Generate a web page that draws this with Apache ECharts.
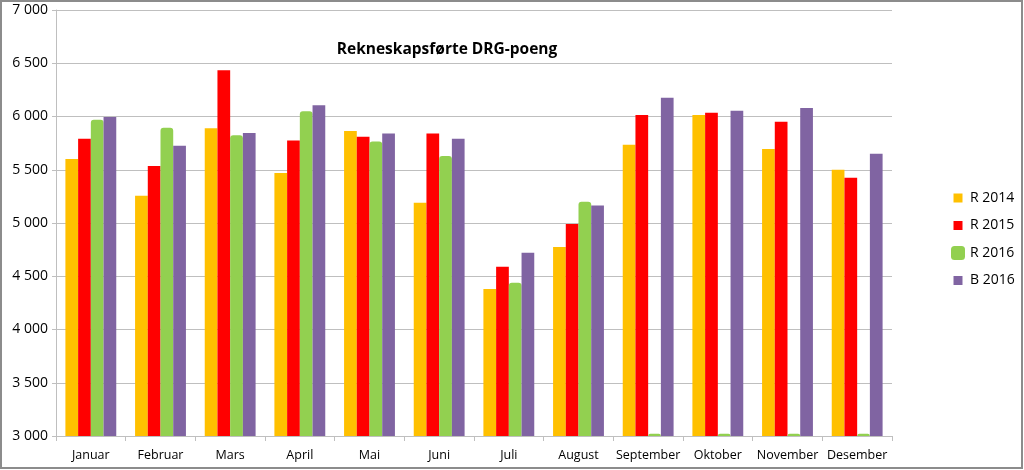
<!DOCTYPE html>
<html>
<head>
<meta charset="utf-8">
<script src="https://cdn.jsdelivr.net/npm/echarts@6/dist/echarts.min.js"></script>
<style>
html,body{margin:0;padding:0;background:#fff;}
#c{width:1024px;height:470px;}
</style>
</head>
<body>
<div id="c"></div>
<script>
const months = ['Januar','Februar','Mars','April','Mai','Juni','Juli','August','September','Oktober','November','Desember'];
const r2014 = [5600,5255,5890,5470,5865,5190,4380,4775,5735,6015,5695,5500];
const r2015 = [5790,5535,6435,5775,5810,5840,4590,4990,6015,6035,5950,5425];
const r2016 = [5970,5895,5825,6050,5765,5630,4440,5200,3020,3020,3020,3020];
const b2016 = [5995,5725,5845,6105,5840,5790,4720,5165,6175,6055,6080,5650];
const yTicks = {min:3000, max:7000, step:500};
const seriesNames = ['R 2014','R 2015','R 2016','B 2016'];

const colors = ['#FFC000','#FF0000','#92D050','#8064A2'];
const smallIcon = 'path://M0,0 M14,14 M2.5,2.5 L11.5,2.5 L11.5,11.5 L2.5,11.5 Z';
const fontFam = '"Open Sans", "Liberation Sans", sans-serif';

function fmt(v){ return String(v).replace(/\B(?=(\d{3})+(?!\d))/g,' '); }

const chart = echarts.init(document.getElementById('c'), null, {renderer:'canvas'});
const datas = [r2014, r2015, r2016, b2016];
const series = datas.map((d,i)=>({
  name: seriesNames[i],
  type: 'bar',
  data: d,
  barGap: '0%',
  barCategoryGap: '27%',
  itemStyle: {color: colors[i], borderRadius: i===2 ? [3,3,0,0] : 0},
  emphasis: {disabled: true}
}));

chart.setOption({
  animation: false,
  backgroundColor: '#fff',
  textStyle: {fontFamily: fontFam},
  title: {
    text: 'Rekneskapsførte DRG-poeng',
    left: 442, top: 37, textAlign: 'center',
    textStyle: {fontFamily: fontFam, fontSize: 15.5, fontWeight: 'bold', color: '#000'}
  },
  legend: {
    orient: 'vertical',
    left: 946, top: 186,
    itemWidth: 14, itemHeight: 14, itemGap: 13.5,
    textStyle: {fontFamily: fontFam, fontSize: 14, color: '#000'},
    data: [
      {name: seriesNames[0], icon: smallIcon},
      {name: seriesNames[1], icon: smallIcon},
      {name: seriesNames[2], icon: 'roundRect'},
      {name: seriesNames[3], icon: smallIcon}
    ]
  },
  grid: {left: 56, right: 132, top: 10, bottom: 34, containLabel: false},
  xAxis: {
    type: 'category',
    data: months,
    axisLine: {lineStyle: {color: '#BFBFBF', width: 1}},
    axisTick: {show: true, alignWithLabel: false, length: 5, lineStyle: {color: '#BFBFBF'}},
    axisLabel: {interval: 0, color: '#000', fontSize: 12.5, fontFamily: fontFam, margin: 13}
  },
  yAxis: {
    type: 'value',
    min: yTicks.min, max: yTicks.max, interval: yTicks.step,
    axisLine: {show: true, lineStyle: {color: '#BFBFBF'}},
    axisTick: {show: true, length: 4, lineStyle: {color: '#BFBFBF'}},
    splitLine: {lineStyle: {color: '#BFBFBF', width: 1}},
    axisLabel: {color: '#000', fontSize: 14, fontFamily: fontFam, margin: 8, formatter: fmt}
  },
  series: series,
  graphic: [{
    type: 'rect', silent: true, z: 100,
    shape: {x: 1, y: 1, width: 1021, height: 467},
    style: {fill: 'none', stroke: '#8c8c8c', lineWidth: 2}
  }]
});
</script>
</body>
</html>
